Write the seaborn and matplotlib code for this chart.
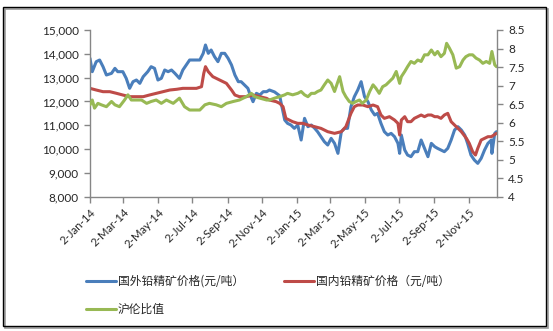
import matplotlib
matplotlib.use("Agg")
import matplotlib.pyplot as plt
import seaborn as sns
import pandas as pd
from matplotlib.ticker import FuncFormatter, MultipleLocator
from matplotlib.patches import Rectangle
from matplotlib.lines import Line2D

sns.set_style("white")
plt.rcParams["font.family"] = ["Lato", "Noto Sans CJK SC", "DejaVu Sans"]

START = pd.Timestamp("2014-01-02")

# 国外铅精矿价格 (元/吨), days counted from 2-Jan-14
overseas_day = [0, 4, 11, 17, 23, 29, 38, 44, 49, 58, 64, 70, 76, 82, 88, 94, 102, 108, 114, 120,
                126, 132, 138, 144, 150, 158, 164, 170, 176, 185, 194, 200, 204, 209, 214, 220, 226, 232, 238, 244,
                250, 256, 262, 267, 273, 279, 283, 288, 294, 300, 306, 312, 317, 326, 335,
                344, 349, 355, 361, 367, 373, 379, 385, 391, 397, 402, 408, 414, 420, 426, 432, 438, 444, 450, 455,
                461, 467, 473, 479, 485, 491, 497, 503, 508, 514, 520, 526, 532, 538, 544, 547, 550, 556, 561, 567,
                573, 579, 585, 591, 597, 603, 609, 614, 620, 626, 632, 638, 644, 650, 656, 662, 667, 673, 679, 685,
                691, 697, 703, 709, 710, 715, 718]
overseas_price = [13810, 13250, 13670, 13740, 13460, 13110, 13180, 13390, 13250, 13250,
                  12970, 12550, 12830, 12900, 12760, 13040, 13250, 13460, 13390, 12900,
                  12970, 13320, 13250, 13320, 13180, 12970, 13320, 13530, 13740, 13740,
                  13740, 14020, 14370, 14020, 14160, 13880, 13670, 14020, 14020, 13810,
                  13530, 13110, 12830, 12830, 12690, 12550, 12270, 11990, 12340, 12270,
                  12410, 12410, 12480, 12400, 12240,
                  11220, 11080, 11010, 10870, 11010, 10380, 11290, 10940, 11010, 10870,
                  10730, 10520, 10310, 10170, 10450, 10240, 9820, 10730, 10870, 10870,
                  11780, 12200, 12480, 12830, 12200, 11990, 11640, 11430, 11500, 11080,
                  10730, 10590, 10660, 10520, 10240, 9820, 10590, 9960, 9750, 9680,
                  9890, 9890, 10380, 10030, 9680, 10240, 10100, 10030, 9960, 9890,
                  10030, 10380, 10800, 10940, 10800, 10590, 10240, 9750, 9540, 9400,
                  9610, 9960, 10240, 10380, 9820, 10660, 10730]

# 国内铅精矿价格 (元/吨)
domestic_day = [0, 11, 23, 35, 47, 58, 70, 82, 94, 105, 117, 129, 141, 153, 164, 176, 188, 197, 201, 204,
                209, 217, 229, 241, 250, 256, 264, 276, 288, 300, 312,
                317, 329, 335, 341, 346, 352, 358, 367, 376, 385, 397, 408, 420, 432, 444, 452, 461, 467, 473, 482,
                491, 500, 508, 514, 520, 529, 538, 544, 547, 550, 556, 561, 567, 573, 579, 585, 591, 597, 603, 609,
                614, 620, 626, 632, 638, 644, 650, 656, 665, 670, 676, 681, 685, 691, 697, 703, 709, 718]
domestic_price = [12550, 12480, 12410, 12410, 12340, 12270, 12200, 12200, 12200, 12270,
                  12340, 12410, 12480, 12510, 12550, 12550, 12550, 12620, 13180, 13460,
                  13250, 13040, 12900, 12760, 12480, 12270, 12200, 12200, 12270, 12200, 12130,
                  12060, 11990, 11920, 11780, 11290, 11220, 11150, 11080, 11080, 11010,
                  10940, 10870, 10730, 10660, 10730, 10940, 11500, 11780, 11850, 11850,
                  11780, 11850, 11780, 11430, 11290, 11360, 11220, 11080, 10590, 11220,
                  11360, 11150, 11150, 11290, 11360, 11430, 11360, 11430, 11430, 11360,
                  11360, 11290, 11430, 11500, 11150, 11010, 10870, 10730, 10450, 10240,
                  9890, 9750, 10030, 10380, 10450, 10520, 10520, 10660]

# 沪伦比值
ratio_day = [0, 4, 8, 14, 20, 29, 38, 44, 52, 61, 67, 73, 82, 91, 100, 108, 117, 126, 135, 147,
             158, 167, 176, 185, 194, 203, 211, 223, 232, 241, 253, 264, 276, 285, 291, 300, 312,
             317, 326, 335, 344, 349, 358, 367, 373, 379, 385, 391, 397, 402, 408, 414, 420, 426, 432, 438, 441,
             447, 452, 458, 464, 470, 476, 481, 488, 494, 500, 505, 511, 517, 523, 529, 535, 541, 547, 550, 556,
             561, 567, 573, 579, 585, 591, 597, 603, 609, 614, 620, 626, 630, 635, 641, 647, 653, 659, 664, 670,
             676, 682, 688, 694, 700, 706, 710, 715, 718]
ratio_value = [6.48, 6.61, 6.39, 6.52, 6.48, 6.43, 6.57, 6.48, 6.43, 6.61,
               6.75, 6.61, 6.61, 6.61, 6.52, 6.57, 6.61, 6.52, 6.61, 6.52,
               6.66, 6.43, 6.34, 6.34, 6.34, 6.48, 6.52, 6.48, 6.43, 6.52,
               6.57, 6.61, 6.70, 6.79, 6.70, 6.66, 6.61,
               6.61, 6.66, 6.70, 6.75, 6.79, 6.75, 6.79, 6.84, 6.75, 6.70,
               6.79, 6.79, 6.84, 6.88, 7.02, 7.15, 7.06, 6.84, 7.11, 7.24,
               6.84, 6.70, 6.57, 6.52, 6.57, 6.61, 6.52, 6.61, 6.84, 7.02,
               6.93, 6.79, 6.97, 7.02, 7.11, 7.20, 7.38, 7.06, 7.24, 7.38,
               7.51, 7.65, 7.60, 7.69, 7.65, 7.83, 7.83, 7.96, 7.83, 7.92,
               7.78, 7.87, 8.14, 8.01, 7.83, 7.47, 7.51, 7.69, 7.78, 7.83,
               7.83, 7.74, 7.69, 7.60, 7.65, 7.60, 7.92, 7.56, 7.51]

labels = ["国外铅精矿价格(元/吨）", "国内铅精矿价格（元/吨）", "沪伦比值"]
tick_dates = pd.date_range("2014-01-02", "2015-11-02", freq=pd.DateOffset(months=2))

BLUE, RED, GREEN = "#4A7EBB", "#BE4B48", "#98B954"
AXIS_GREY = "#868686"
TEXT = "#262626"
LW = 2.2


def frame(day, value, col):
    return pd.DataFrame({"date": START + pd.to_timedelta(day, unit="D"), col: value})


overseas = frame(overseas_day, overseas_price, "price")
domestic = frame(domestic_day, domestic_price, "price")
ratio = frame(ratio_day, ratio_value, "ratio")

W, H = 553, 331
fig = plt.figure(figsize=(W / 100, H / 100), dpi=100)
ax = fig.add_axes([90 / W, 1 - 196.7 / H, (497 - 90) / W, (196.7 - 30) / H])
ax2 = ax.twinx()

sns.lineplot(data=overseas, x="date", y="price", ax=ax, color=BLUE, lw=LW)
sns.lineplot(data=domestic, x="date", y="price", ax=ax, color=RED, lw=LW)
sns.lineplot(data=ratio, x="date", y="ratio", ax=ax2, color=GREEN, lw=LW)

ax.set_xlim(START, START + pd.Timedelta(days=719))
ax.set_ylim(8000, 15000)
ax2.set_ylim(4, 8.5)
ax.yaxis.set_major_locator(MultipleLocator(1000))
ax.yaxis.set_major_formatter(FuncFormatter(lambda v, p: f"{v:,.0f}"))
ax2.yaxis.set_major_locator(MultipleLocator(0.5))
ax2.yaxis.set_major_formatter(FuncFormatter(lambda v, p: f"{v:g}"))
ax.set_xticks(tick_dates)
ax.set_xticklabels([f"{d.day}-{d.strftime('%b-%y')}" for d in tick_dates],
                   rotation=45, ha="right", rotation_mode="anchor")

for a in (ax, ax2):
    a.set_xlabel("")
    a.set_ylabel("")
    for s in a.spines.values():
        s.set_color(AXIS_GREY)
        s.set_linewidth(1.0)
    a.spines["top"].set_visible(False)
ax.spines["right"].set_visible(False)
ax2.spines["left"].set_visible(False)
ax2.spines["bottom"].set_visible(False)

ax.tick_params(axis="y", left=True, direction="out", length=4, width=1, color=AXIS_GREY,
               labelsize=8.5, labelcolor=TEXT, pad=4)
ax.tick_params(axis="x", bottom=True, direction="out", length=4, width=1, color=AXIS_GREY,
               labelsize=8.2, labelcolor=TEXT, pad=3)
ax2.tick_params(axis="y", right=True, direction="out", length=4, width=1, color=AXIS_GREY,
                labelsize=8.5, labelcolor=TEXT, pad=4)

handles = [Line2D([], [], color=BLUE, lw=LW), Line2D([], [], color=GREEN, lw=LW),
           Line2D([], [], color=RED, lw=LW)]
fig.legend(handles, [labels[0], labels[2], labels[1]], ncol=2, loc="upper left",
           bbox_to_anchor=(86 / W, 1 - 275 / H), frameon=False,
           handlelength=2.5, handletextpad=0.2, columnspacing=3.4, labelspacing=1.25,
           borderpad=0, borderaxespad=0,
           prop={"family": ["Noto Sans CJK SC", "DejaVu Sans"], "size": 8.5})

# outer chart border with a soft drop shadow
fig.add_artist(Rectangle((4.5 / W, 1 - 327.5 / H), 543 / W, 319 / H, transform=fig.transFigure,
                         fill=False, ec="#9a9a9a", lw=1.2))
fig.add_artist(Rectangle((3 / W, 1 - 326 / H), 543 / W, 319 / H, transform=fig.transFigure,
                         fill=False, ec="black", lw=1.0))

fig.savefig("out.png", dpi=100)
